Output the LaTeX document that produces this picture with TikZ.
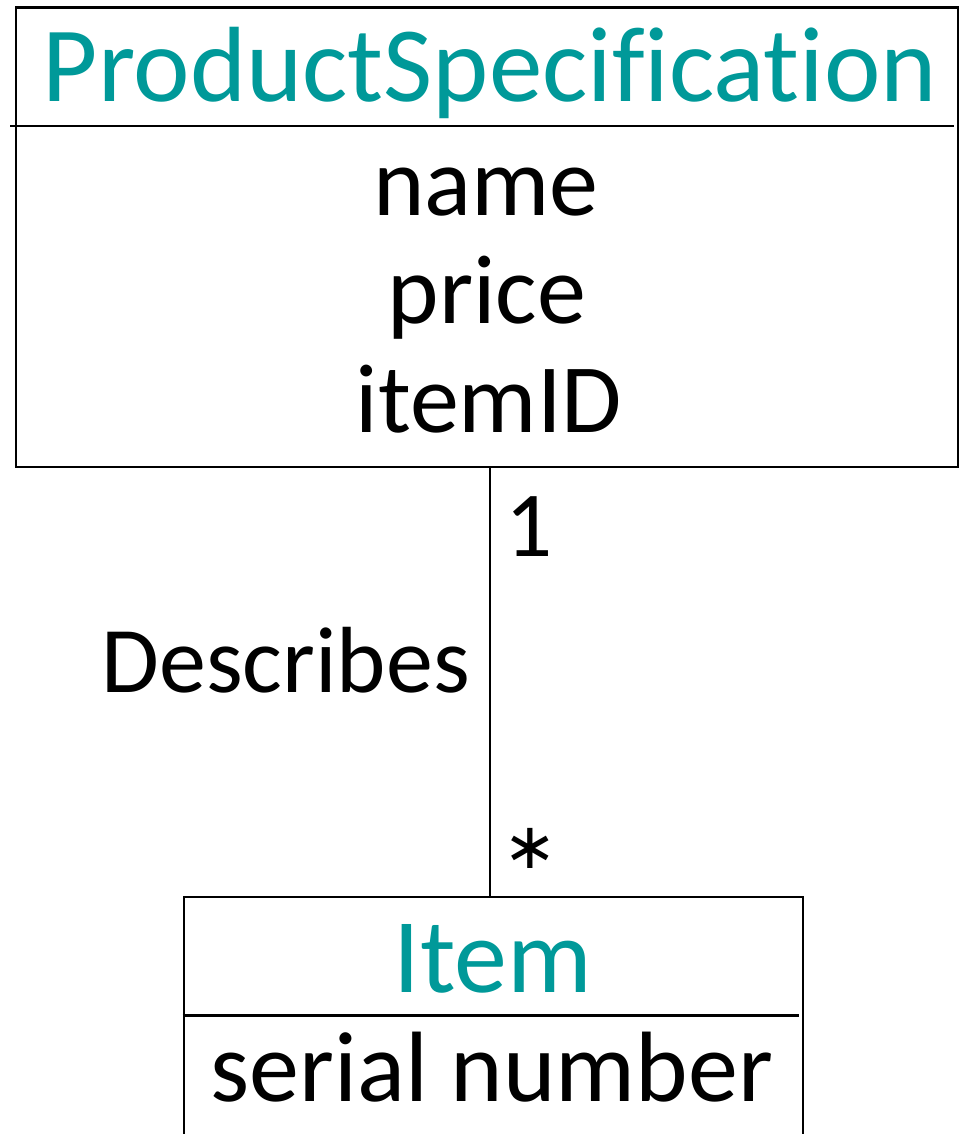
\documentclass[tikz,border=0pt]{standalone}
\usepackage{fontspec}
\setmainfont{Carlito}[Ligatures={NoCommon,NoContextual}]
\newfontfamily\symfont{DejaVu Sans}
\usetikzlibrary{calc}
\definecolor{classteal}{RGB}{0,153,153}
\tikzset{
  umlbox/.style={draw=black, line width=2.2pt, inner sep=0pt, anchor=north west},
  rule/.style={draw=black, line width=2.2pt},
  link/.style={draw=black, line width=1.8pt},
  classname/.style={text=classteal, anchor=base, inner sep=0pt},
  attr/.style={text=black, anchor=base, inner sep=0pt},
}
\newcommand{\fs}[1]{\fontsize{#1pt}{#1pt}\selectfont}
\begin{document}
\begin{tikzpicture}[x=1pt, y=-1pt]
  \useasboundingbox (0,0) rectangle (963,1134);
  \clip (0,0) rectangle (963,1134);

  % ProductSpecification class
  \node[umlbox, minimum width=941.5pt, minimum height=459.5pt] (spec) at (15,6.5) {};
  \draw[rule] ($(spec.north west)+(-5,119.5)$) -- ($(spec.north east)+(-5,119.5)$);
  \node[classname] (specname) at (490,102) {\fs{107}ProductSpecification};
  \node[attr] (aname)  at (486,215) {\fs{98}name};
  \node[attr] (aprice) at (487,323) {\fs{98}price};
  \node[attr] (aid)    at (489,432) {\fs{98}itemID};

  % Item class (runs past the lower edge)
  \node[umlbox, minimum width=619pt, minimum height=280pt] (item) at (182.7,896) {};
  \draw[rule] ($(item.north west)+(0,119.5)$) -- ($(item.north east)+(-5,119.5)$);
  \node[classname] (itemname) at (493,992) {\fs{106}Item};
  \node[attr] (aserial) at (492,1101) {\fs{100}serial number};

  % Describes association
  \coordinate (axis) at (490,0);
  \draw[link] (spec.south -| axis) -- (item.north -| axis);
  \node[attr] (one) at (529,556) {\fs{93}1};
  \node[attr] (many) at (530,868) {\symfont\fs{64}∗};
  \node[attr, anchor=base east] (role) at (470,692) {\fs{94}Describes};
\end{tikzpicture}
\end{document}
